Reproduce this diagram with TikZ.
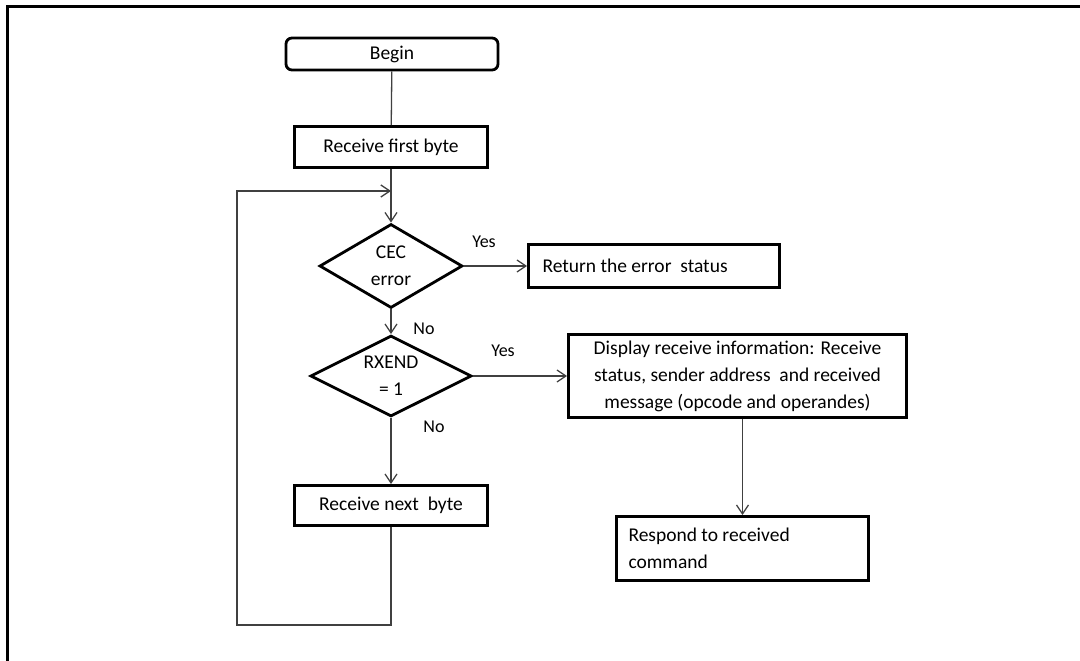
\documentclass[tikz,border=0pt]{standalone}
\usepackage{fontspec}
\setmainfont{Carlito}
\usetikzlibrary{shapes.geometric,arrows.meta}

\begin{document}
\begin{tikzpicture}[x=1pt,y=-1pt,
  >={Straight Barb[length=9pt,width=12pt]},
  box/.style={draw, line width=2.8pt, inner sep=0pt, font=\fontsize{19.5}{27}\selectfont},
  decision/.style={box, diamond, shape aspect=2, align=center},
  flow/.style={line width=1.3pt, draw=black!75},
  answer/.style={font=\fontsize{18}{22}\selectfont, inner sep=0pt}]
\useasboundingbox (0,0) rectangle (1080,661);
\draw[line width=2.4pt] (7.5,661) -- (7.5,6.5) -- (1080,6.5);

\node[box, rounded corners=6pt, minimum width=212pt, minimum height=32pt] (begin) at (392,54) {Begin};
\node[box, minimum width=193pt, minimum height=41pt] (first) at (391,147) {Receive first byte};
\node[decision, minimum width=143pt, minimum height=84pt] (cec) at (391,266) {CEC\\error};
\node[box, text width=223pt, align=flush left, inner xsep=14pt, minimum height=43pt] (ret) at (654,266) {Return the error\ \ status};
\node[decision, minimum width=161pt, minimum height=81pt] (rxend) at (391,376) {RXEND\\= 1};
\node[box, align=center, minimum width=338pt, minimum height=83pt] (disp) at (737.5,376)
  {Display receive information: Receive\\status, sender address\ \ and received\\message (opcode and operandes)};
\node[box, minimum width=193pt, minimum height=40pt] (next) at (391,505.5) {Receive next\ \ byte};
\node[box, text width=228pt, align=flush left, inner xsep=12pt, minimum height=64pt] (resp) at (742.5,548.5) {Respond to received\\command};

\node[answer] (yes1) at (484,242) {Yes};
\node[answer] (no1) at (424,329) {No};
\node[answer] (yes2) at (503,351) {Yes};
\node[answer] (no2) at (434,427) {No};

\coordinate (join) at (391,191);
\coordinate (corner) at (237,625);

\draw[flow] (begin) -- (first);
\draw[flow,->] (first) -- (cec);
\draw[flow,->] (cec) -- (ret);
\draw[flow,->] (cec) -- (rxend);
\draw[flow,->] (rxend) -- (disp);
\draw[flow,->] (rxend) -- (next);
\draw[flow,->] (resp.north |- disp.south) -- (resp.north);
\draw[flow,->] (next.south) |- (corner) |- (join);
\end{tikzpicture}
\end{document}
